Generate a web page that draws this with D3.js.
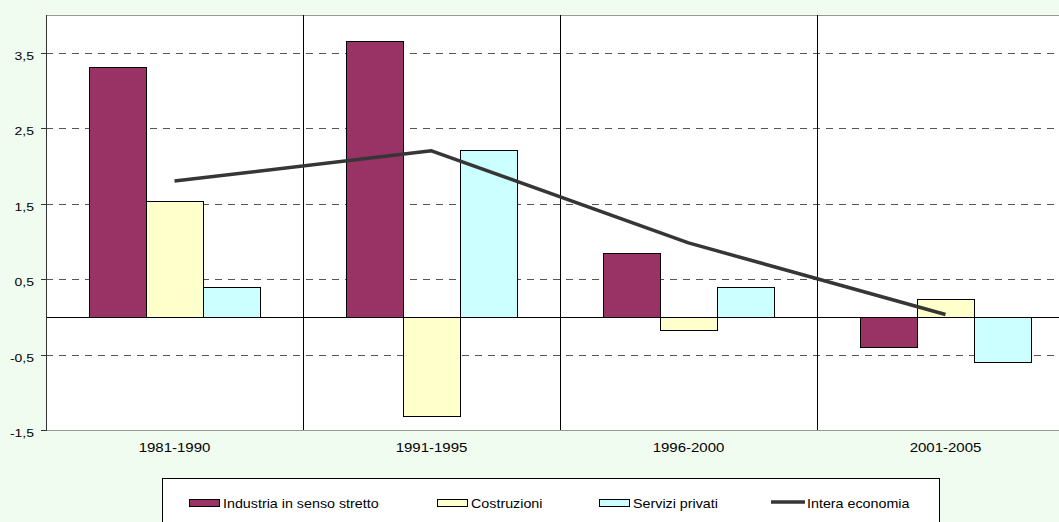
<!DOCTYPE html>
<html><head><meta charset="utf-8">
<script src="https://cdn.jsdelivr.net/npm/d3@7"></script>
<style>
html,body{margin:0;padding:0;background:#F1FCF1;}
svg{display:block;}
text{font-family:"Liberation Sans",Arial,sans-serif;fill:#000;}
</style></head>
<body>
<svg id="c" width="1059" height="522"></svg>
<script>
const categories = ["1981-1990","1991-1995","1996-2000","2001-2005"];
const seriesNames = ["Industria in senso stretto","Costruzioni","Servizi privati"];
const industria = [3.31, 3.66, 0.84, -0.40];
const costruzioni = [1.53, -1.31, -0.17, 0.24];
const servizi = [0.40, 2.21, 0.40, -0.60];
const interaName = "Intera economia";
const intera = [1.80, 2.20, 0.98, 0.03];
const yTicks = [-1.5, -0.5, 0.5, 1.5, 2.5, 3.5];
const yTickLabels = ["-1,5","-0,5","0,5","1,5","2,5","3,5"];
const colors = ["#993366","#FFFFCC","#CCFFFF"];
const lineColor = "#363636";

const seriesVals = [industria, costruzioni, servizi];
const svg = d3.select("#c");
const L = 46, T = 15, R = 1074, B = 430;

const x = d3.scaleBand().domain(categories).range([L, R]).paddingInner(0).paddingOuter(0);
const x1 = d3.scaleBand().domain(seriesNames).range([0, x.bandwidth()]).paddingInner(0).paddingOuter(0.75);
const y = d3.scaleLinear().domain([-1.5, 4]).range([B, T]);

function stext(g, tx, ty, str, size, sx, anchor){
  return g.append("text").attr("transform", `translate(${tx},${ty}) scale(${sx},1)`)
    .attr("font-size", size).attr("text-anchor", anchor).text(str);
}

// plot area
svg.append("rect").attr("x", L).attr("y", T).attr("width", R - L).attr("height", B - T).attr("fill", "#fff");
svg.append("line").attr("x1", L).attr("x2", R).attr("y1", T + 0.5).attr("y2", T + 0.5).attr("stroke", "#999");
svg.append("line").attr("x1", L).attr("x2", R).attr("y1", B + 0.5).attr("y2", B + 0.5).attr("stroke", "#999");

// gridlines
svg.append("g").selectAll("line").data(yTicks.filter(t => t > -1.5)).join("line")
  .attr("x1", L).attr("x2", R)
  .attr("y1", d => Math.round(y(d)) + 0.5).attr("y2", d => Math.round(y(d)) + 0.5)
  .attr("stroke", "#555").attr("stroke-dasharray", "7,6");

// category separators
svg.append("g").selectAll("line").data(categories.slice(1)).join("line")
  .attr("x1", d => Math.round(x(d)) + 0.5).attr("x2", d => Math.round(x(d)) + 0.5)
  .attr("y1", T).attr("y2", B)
  .attr("stroke", "#000");

// bars
seriesNames.forEach((s, si) => {
  svg.append("g").selectAll("rect").data(seriesVals[si]).join("rect")
    .attr("x", (d, i) => Math.round(x(categories[i]) + x1(s)) + 0.5)
    .attr("width", Math.round(x1.bandwidth()))
    .attr("y", d => Math.round(y(Math.max(0, d))) + 0.5)
    .attr("height", d => Math.abs(Math.round(y(d)) - Math.round(y(0))))
    .attr("fill", colors[si]).attr("stroke", "#000").attr("stroke-width", 1);
});

// zero line
svg.append("line").attr("x1", L).attr("x2", R)
  .attr("y1", Math.round(y(0)) + 0.5).attr("y2", Math.round(y(0)) + 0.5).attr("stroke", "#000");

// y axis
svg.append("line").attr("x1", L + 0.5).attr("x2", L + 0.5).attr("y1", T).attr("y2", B + 1).attr("stroke", "#333");
const yg = svg.append("g");
yTicks.forEach((t, i) => {
  const yy = Math.round(y(t)) + 0.5;
  yg.append("line").attr("x1", L - 5).attr("x2", L).attr("y1", yy).attr("y2", yy).attr("stroke", "#333");
  stext(yg, 34, yy + 6, yTickLabels[i], 10, 1.4, "end");
});

// x labels
const xg = svg.append("g");
categories.forEach(c => stext(xg, x(c) + x.bandwidth() / 2, 452, c, 12.5, 1.2, "middle"));

// line series
const line = d3.line().x((d, i) => x(categories[i]) + x.bandwidth() / 2).y(d => y(d));
svg.append("path").datum(intera).attr("d", line).attr("fill", "none")
  .attr("stroke", lineColor).attr("stroke-width", 3.5).attr("stroke-linejoin", "round");

// legend
const lg = svg.append("g");
lg.append("rect").attr("x", 162.5).attr("y", 478.5).attr("width", 777).attr("height", 60)
  .attr("fill", "#fff").attr("stroke", "#000");
const swX = [189, 437, 599];
const txX = [223, 471, 633];
seriesNames.forEach((s, i) => {
  lg.append("rect").attr("x", swX[i] + 0.5).attr("y", 499.5).attr("width", 30).attr("height", 7)
    .attr("fill", colors[i]).attr("stroke", "#000");
  stext(lg, txX[i], 508, s, 13, 1.1, "start");
});
lg.append("line").attr("x1", 771).attr("x2", 805).attr("y1", 502).attr("y2", 502)
  .attr("stroke", lineColor).attr("stroke-width", 3.5);
stext(lg, 807, 508, interaName, 13, 1.1, "start");
</script>
</body></html>
